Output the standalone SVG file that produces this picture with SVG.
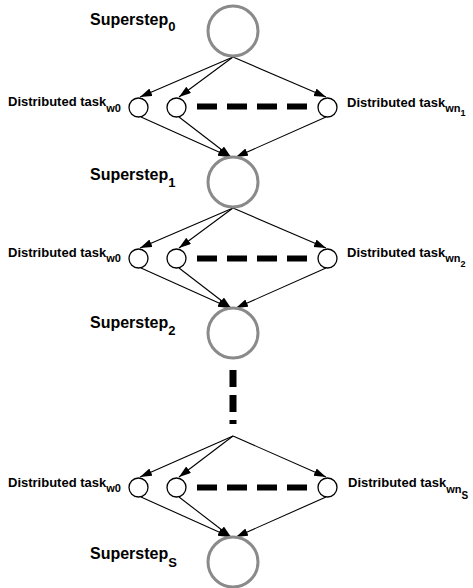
<svg xmlns="http://www.w3.org/2000/svg" width="473" height="588" viewBox="0 0 473 588">
<style>
.ss{fill:#fff;stroke:#8a8a8a;stroke-width:3}
.tk{fill:#fff;stroke:#000;stroke-width:1.3}
.lbl{font-family:"Liberation Sans",Arial,sans-serif;font-weight:bold;fill:#000}
.big{font-size:16px}
.sm{font-size:13px}
.arr{stroke:#000;stroke-width:1.1;fill:none;marker-end:url(#ah)}
.hd{stroke:#000;stroke-width:6;stroke-dasharray:20 10;fill:none}
.vd{stroke:#000;stroke-width:7;stroke-dasharray:17 8;fill:none}
</style>
<defs>
<marker id="ah" markerUnits="userSpaceOnUse" markerWidth="13" markerHeight="9" refX="12" refY="4" orient="auto">
<path d="M0,0 L12,4 L0,8 z" fill="#000"/>
</marker>
</defs>
<rect width="473" height="588" fill="#fff"/>
<g id="connectors">
<path class="arr" d="M233,57 L140,97"/>
<path class="arr" d="M233,57 L179,97"/>
<path class="arr" d="M233,57 L326,97"/>
<path class="arr" d="M141,117 L230,157"/>
<path class="arr" d="M179,117 L231,157"/>
<path class="arr" d="M326,117 L236,157"/>
<path class="arr" d="M233,208 L140,248"/>
<path class="arr" d="M233,208 L179,248"/>
<path class="arr" d="M233,208 L326,248"/>
<path class="arr" d="M141,268 L230,308"/>
<path class="arr" d="M179,268 L231,308"/>
<path class="arr" d="M326,268 L236,308"/>
<path class="arr" d="M233,436 L140,477"/>
<path class="arr" d="M233,436 L179,477"/>
<path class="arr" d="M233,436 L326,477"/>
<path class="arr" d="M141,497 L230,537"/>
<path class="arr" d="M179,497 L231,537"/>
<path class="arr" d="M326,497 L236,537"/>
<path class="hd" d="M197,106.5 L308,106.5"/>
<path class="hd" d="M197,258.5 L308,258.5"/>
<path class="hd" d="M197,487.5 L308,487.5"/>
<path class="vd" d="M233,370 L233,424"/>
</g>
<g id="superstep0">
<circle class="ss" cx="233" cy="31" r="25"/>
<text class="lbl big" x="90" y="25">Superstep<tspan font-size="13" dy="6">0</tspan></text>
</g>
<g id="task-row1-w0">
<circle class="tk" cx="138.5" cy="107.5" r="9.5"/>
<text class="lbl sm" x="8" y="106">Distributed task<tspan font-size="11" dy="6">w0</tspan></text>
</g>
<g id="task-row1-mid">
<circle class="tk" cx="176.5" cy="107.5" r="9.5"/>
</g>
<g id="task-row1-wn">
<circle class="tk" cx="327.5" cy="107.5" r="9.5"/>
<text class="lbl sm" x="347" y="107">Distributed task<tspan font-size="11" dy="5">wn</tspan><tspan font-size="9" dy="4">1</tspan></text>
</g>
<g id="superstep1">
<circle class="ss" cx="233" cy="182" r="25"/>
<text class="lbl big" x="90" y="180">Superstep<tspan font-size="13" dy="7">1</tspan></text>
</g>
<g id="task-row2-w0">
<circle class="tk" cx="138.5" cy="258.5" r="9.5"/>
<text class="lbl sm" x="8" y="257">Distributed task<tspan font-size="11" dy="5">w0</tspan></text>
</g>
<g id="task-row2-mid">
<circle class="tk" cx="176.5" cy="258.5" r="9.5"/>
</g>
<g id="task-row2-wn">
<circle class="tk" cx="327.5" cy="258.5" r="9.5"/>
<text class="lbl sm" x="347" y="257">Distributed task<tspan font-size="11" dy="5">wn</tspan><tspan font-size="9" dy="5">2</tspan></text>
</g>
<g id="superstep2">
<circle class="ss" cx="233" cy="333" r="25"/>
<text class="lbl big" x="90" y="328">Superstep<tspan font-size="13" dy="7">2</tspan></text>
</g>
<g id="task-row3-w0">
<circle class="tk" cx="138.5" cy="487.5" r="9.5"/>
<text class="lbl sm" x="8" y="487">Distributed task<tspan font-size="11" dy="5">w0</tspan></text>
</g>
<g id="task-row3-mid">
<circle class="tk" cx="176.5" cy="487.5" r="9.5"/>
</g>
<g id="task-row3-wn">
<circle class="tk" cx="327.5" cy="487.5" r="9.5"/>
<text class="lbl sm" x="348" y="487">Distributed task<tspan font-size="11" dy="6">wn</tspan><tspan font-size="10" dy="6">S</tspan></text>
</g>
<g id="supersteps">
<circle class="ss" cx="233" cy="562" r="25"/>
<text class="lbl big" x="90" y="559">Superstep<tspan font-size="13" dy="8">S</tspan></text>
</g>
</svg>
